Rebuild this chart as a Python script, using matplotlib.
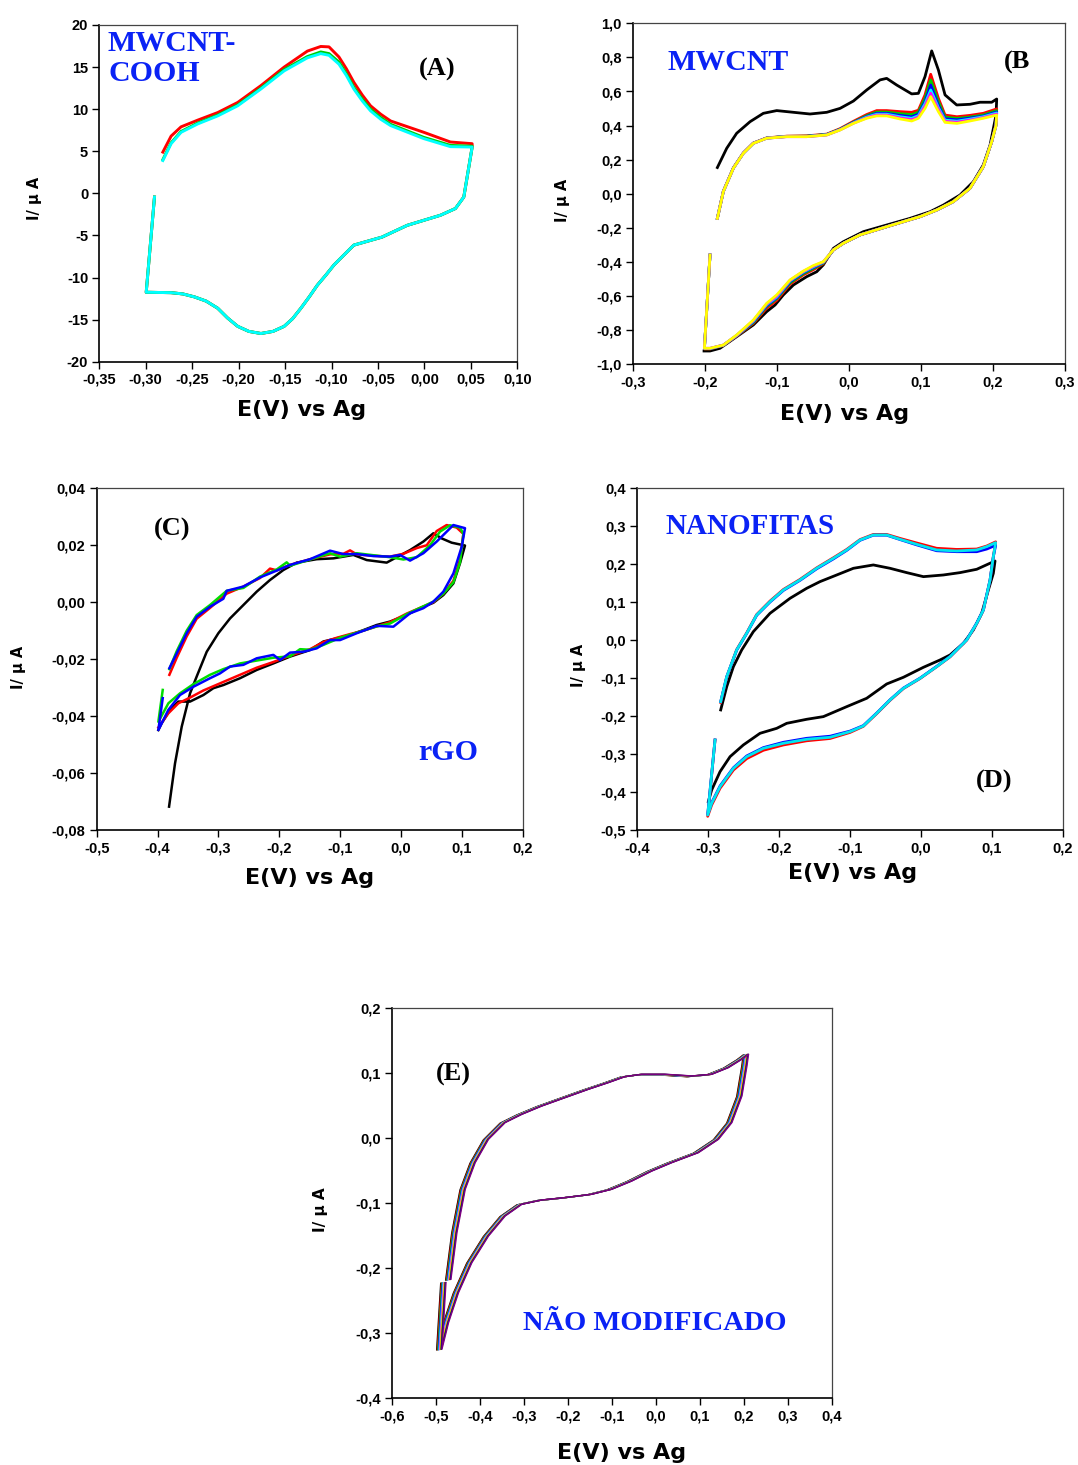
import matplotlib
matplotlib.use("Agg")
import matplotlib.pyplot as plt
import matplotlib.transforms as mtransforms
from matplotlib.ticker import FixedLocator, FixedFormatter

# ---------------- Panel A : MWCNT-COOH ----------------
A_E_fwd = [-0.2816, -0.2727, -0.2620, -0.2440, -0.2225, -0.2010, -0.1760, -0.1510, -0.1260,
           -0.1116, -0.1027, -0.0920, -0.0840, -0.0760, -0.0670, -0.0580, -0.0470, -0.0364,
           -0.0006, 0.0280, 0.0514]
A_I_red_fwd = [4.9, 6.8, 7.9, 8.7, 9.6, 10.8, 12.8, 15.0, 16.9, 17.45, 17.4, 16.2, 14.8, 13.2,
               11.7, 10.4, 9.4, 8.6, 7.25, 6.1, 5.9]
A_I_green_fwd = [4.0, 6.0, 7.35, 8.35, 9.3, 10.5, 12.5, 14.7, 16.25, 16.8, 16.6, 15.6, 14.2, 12.6,
                 11.2, 10.0, 9.0, 8.2, 6.65, 5.7, 5.6]
A_I_cyan_fwd = [3.9, 5.9, 7.25, 8.25, 9.2, 10.4, 12.4, 14.55, 16.1, 16.6, 16.4, 15.35, 14.0, 12.4,
                11.0, 9.8, 8.8, 8.05, 6.5, 5.55, 5.5]
A_E_rev = [0.0514, 0.0424, 0.0334, 0.0173, -0.0185, -0.0457, -0.0760, -0.0973, -0.1060, -0.1152,
           -0.1240, -0.1330, -0.1420, -0.1510, -0.1630, -0.1760, -0.1890, -0.2010, -0.2120,
           -0.2225, -0.2350, -0.2476, -0.2600, -0.2727, -0.2995, -0.2906]
A_I_rev = [5.5, -0.44, -1.8, -2.6, -3.8, -5.2, -6.15, -8.5, -9.7, -10.9, -12.3, -13.65, -14.9,
           -15.8, -16.4, -16.65, -16.4, -15.8, -14.8, -13.65, -12.8, -12.3, -11.95, -11.8,
           -11.75, -0.44]
A_colors = ["red", "#00cc00", "cyan"]

# ---------------- Panel B : MWCNT ----------------
B_E_black_fwd = [-0.1825, -0.1695, -0.1557, -0.1371, -0.1187, -0.1001, -0.0770, -0.0539, -0.0307,
                 -0.0122, 0.0063, 0.0248, 0.0433, 0.0525, 0.0664, 0.0872, 0.0965, 0.1057, 0.1150,
                 0.1243, 0.1335, 0.1497, 0.1682, 0.1821, 0.1983, 0.2052]
B_I_black_fwd = [0.154, 0.267, 0.355, 0.423, 0.472, 0.488, 0.478, 0.468, 0.478, 0.501, 0.544,
                 0.609, 0.668, 0.677, 0.638, 0.586, 0.589, 0.687, 0.838, 0.726, 0.580, 0.521,
                 0.525, 0.537, 0.537, 0.556]
B_E_black_rev = [0.2052, 0.2043, 0.1960, 0.1866, 0.1728, 0.1543, 0.1312, 0.1127, 0.0849, 0.0525,
                 0.0202, -0.0076, -0.0215, -0.0354, -0.0446, -0.0585, -0.0770, -0.0909, -0.1024,
                 -0.1140, -0.1325, -0.1557, -0.1788, -0.1927, -0.2010]
B_I_black_rev = [0.556, 0.462, 0.286, 0.169, 0.071, -0.007, -0.066, -0.105, -0.144, -0.183,
                 -0.222, -0.281, -0.320, -0.417, -0.457, -0.486, -0.535, -0.593, -0.652, -0.691,
                 -0.769, -0.838, -0.906, -0.922, -0.922]

B_E_fwd = [-0.1825, -0.1742, -0.1603, -0.1464, -0.1325, -0.1140, -0.0863, -0.0585, -0.0307,
           -0.0122, 0.0063, 0.0248, 0.0387, 0.0525, 0.0710, 0.0872, 0.0965, 0.1057, 0.1136,
           0.1243, 0.1335, 0.1500, 0.1680, 0.1866, 0.2052]
B_I_fwd = {
    "red":     [-0.144, 0.015, 0.152, 0.240, 0.298, 0.328, 0.338, 0.340, 0.350, 0.382, 0.425, 0.465,
                0.488, 0.488, 0.482, 0.478, 0.490, 0.580, 0.701, 0.560, 0.462, 0.452, 0.460, 0.472, 0.498],
    "#00cc00": [-0.144, 0.014, 0.151, 0.239, 0.297, 0.327, 0.337, 0.338, 0.348, 0.379, 0.420, 0.458,
                0.479, 0.479, 0.470, 0.465, 0.478, 0.560, 0.668, 0.540, 0.450, 0.442, 0.450, 0.462, 0.488],
    "blue":    [-0.144, 0.014, 0.151, 0.239, 0.297, 0.327, 0.336, 0.337, 0.347, 0.377, 0.418, 0.453,
                0.472, 0.472, 0.460, 0.452, 0.467, 0.540, 0.638, 0.520, 0.440, 0.434, 0.444, 0.456, 0.480],
    "cyan":    [-0.144, 0.013, 0.150, 0.238, 0.296, 0.326, 0.336, 0.336, 0.346, 0.376, 0.416, 0.450,
                0.467, 0.467, 0.452, 0.443, 0.458, 0.528, 0.609, 0.505, 0.432, 0.426, 0.438, 0.452, 0.474],
    "magenta": [-0.144, 0.013, 0.150, 0.238, 0.296, 0.326, 0.335, 0.335, 0.345, 0.375, 0.414, 0.446,
                0.462, 0.462, 0.445, 0.435, 0.450, 0.515, 0.590, 0.495, 0.425, 0.420, 0.432, 0.447, 0.468],
    "yellow":  [-0.144, 0.013, 0.150, 0.238, 0.296, 0.326, 0.335, 0.335, 0.345, 0.374, 0.413, 0.443,
                0.457, 0.457, 0.439, 0.427, 0.443, 0.501, 0.570, 0.482, 0.419, 0.413, 0.427, 0.443, 0.462],
}
B_E_rev = [0.2052, 0.2043, 0.1983, 0.1866, 0.1680, 0.1450, 0.1220, 0.0988, 0.0525, 0.0155, -0.0076,
           -0.0215, -0.0354, -0.0493, -0.0631, -0.0816, -0.1001, -0.1140, -0.1325, -0.1557, -0.1742,
           -0.1927, -0.2005, -0.1927]
B_I_rev = {
    "red":     [0.498, 0.410, 0.306, 0.159, 0.032, -0.046, -0.095, -0.134, -0.193, -0.241, -0.290, -0.329,
                -0.410, -0.445, -0.475, -0.530, -0.625, -0.670, -0.760, -0.835, -0.890, -0.910, -0.910, -0.359],
    "#00cc00": [0.488, 0.405, 0.306, 0.159, 0.032, -0.046, -0.095, -0.134, -0.193, -0.241, -0.290, -0.329,
                -0.406, -0.438, -0.468, -0.522, -0.615, -0.660, -0.755, -0.833, -0.889, -0.909, -0.909, -0.359],
    "blue":    [0.480, 0.403, 0.306, 0.159, 0.032, -0.046, -0.095, -0.134, -0.193, -0.241, -0.290, -0.329,
                -0.403, -0.432, -0.462, -0.515, -0.610, -0.655, -0.750, -0.832, -0.888, -0.908, -0.908, -0.359],
    "cyan":    [0.474, 0.402, 0.306, 0.159, 0.032, -0.046, -0.095, -0.134, -0.193, -0.241, -0.290, -0.329,
                -0.401, -0.428, -0.458, -0.510, -0.605, -0.650, -0.746, -0.831, -0.888, -0.907, -0.907, -0.359],
    "magenta": [0.468, 0.401, 0.306, 0.159, 0.032, -0.046, -0.095, -0.134, -0.193, -0.241, -0.290, -0.329,
                -0.399, -0.425, -0.455, -0.507, -0.600, -0.646, -0.743, -0.830, -0.887, -0.906, -0.906, -0.359],
    "yellow":  [0.462, 0.400, 0.306, 0.159, 0.032, -0.046, -0.095, -0.134, -0.193, -0.241, -0.290, -0.329,
                -0.398, -0.421, -0.453, -0.505, -0.593, -0.642, -0.740, -0.828, -0.887, -0.906, -0.906, -0.359],
}

# ---------------- Panel C : rGO ----------------
C_E_black = [-0.3811, -0.3713, -0.3603, -0.3466, -0.3357, -0.3192, -0.3001, -0.2809, -0.2590, -0.2371,
             -0.2152, -0.1933, -0.1714, -0.1385, -0.1111, -0.0782, -0.0563, -0.0235, -0.0070, 0.0149,
             0.0368, 0.0532, 0.0669, 0.0833, 0.1052, 0.0970, 0.0861, 0.0696, 0.0532, 0.0313, 0.0094,
             -0.0180, -0.0399, -0.0618, -0.0837, -0.1056, -0.1275, -0.1494, -0.1823, -0.2097, -0.2371,
             -0.2645, -0.2919, -0.3083, -0.3247, -0.3466, -0.3658, -0.3795, -0.3932, -0.3987]
C_I_black = [-0.0718, -0.0566, -0.0437, -0.0320, -0.0261, -0.0174, -0.0109, -0.0057, -0.0010, 0.0037,
             0.0078, 0.0113, 0.0139, 0.0151, 0.0154, 0.0166, 0.0148, 0.0139, 0.0158, 0.0183, 0.0213,
             0.0242, 0.0224, 0.0209, 0.0199, 0.0137, 0.0066, 0.0025, -0.0002, -0.0021, -0.0045, -0.0068,
             -0.0080, -0.0098, -0.0115, -0.0127, -0.0138, -0.0168, -0.0191, -0.0215, -0.0238, -0.0267,
             -0.0291, -0.0302, -0.0326, -0.0349, -0.0349, -0.0378, -0.0425, -0.0449]
C_E_red = [-0.3806, -0.3685, -0.3521, -0.3357, -0.3138, -0.2864, -0.2590, -0.2316, -0.2152, -0.2042,
           -0.1823, -0.1494, -0.1166, -0.0947, -0.0837, -0.0728, -0.0454, -0.0180, 0.0040, 0.0259,
           0.0423, 0.0587, 0.0751, 0.0915, 0.1025, 0.0970, 0.0861, 0.0696, 0.0532, 0.0313, 0.0094,
           -0.0180, -0.0399, -0.0618, -0.0837, -0.1056, -0.1275, -0.1494, -0.1823, -0.2097, -0.2371,
           -0.2645, -0.2919, -0.3247, -0.3466, -0.3658, -0.3822, -0.3987]
C_I_red = [-0.0255, -0.0195, -0.0120, -0.0058, -0.0020, 0.0030, 0.0055, 0.0085, 0.0118, 0.0112,
           0.0131, 0.0151, 0.0168, 0.0170, 0.0182, 0.0168, 0.0163, 0.0160, 0.0170, 0.0190, 0.0200,
           0.0250, 0.0271, 0.0262, 0.0240, 0.0150, 0.0075, 0.0030, 0.0000, -0.0020, -0.0040, -0.0070,
           -0.0085, -0.0100, -0.0112, -0.0125, -0.0140, -0.0165, -0.0188, -0.0210, -0.0230, -0.0255,
           -0.0280, -0.0310, -0.0335, -0.0355, -0.0390, -0.0440]
C_E_green = [-0.3806, -0.3685, -0.3521, -0.3357, -0.3138, -0.2864, -0.2590, -0.2316, -0.2042, -0.1878,
             -0.1823, -0.1494, -0.1166, -0.1001, -0.0728, -0.0454, -0.0180, 0.0040, 0.0259, 0.0478,
             0.0642, 0.0806, 0.0970, 0.1025, 0.0970, 0.0861, 0.0696, 0.0532, 0.0313, 0.0094, -0.0180,
             -0.0399, -0.0728, -0.1001, -0.1275, -0.1494, -0.1659, -0.1823, -0.2097, -0.2371, -0.2645,
             -0.2919, -0.3138, -0.3412, -0.3631, -0.3822, -0.3987, -0.3915]
C_I_green = [-0.0235, -0.0172, -0.0100, -0.0045, -0.0010, 0.0040, 0.0050, 0.0090, 0.0115, 0.0140,
             0.0128, 0.0150, 0.0172, 0.0160, 0.0172, 0.0165, 0.0158, 0.0150, 0.0158, 0.0200, 0.0248,
             0.0270, 0.0262, 0.0240, 0.0140, 0.0070, 0.0030, 0.0002, -0.0020, -0.0042, -0.0075,
             -0.0085, -0.0107, -0.0125, -0.0150, -0.0167, -0.0165, -0.0190, -0.0195, -0.0205, -0.0215,
             -0.0235, -0.0255, -0.0288, -0.0320, -0.0355, -0.0420, -0.0308]
C_E_blue = [-0.3806, -0.3685, -0.3521, -0.3357, -0.3138, -0.2919, -0.2864, -0.2590, -0.2316, -0.2042,
            -0.1823, -0.1494, -0.1166, -0.0947, -0.0728, -0.0454, -0.0180, -0.0016, 0.0149, 0.0368,
            0.0587, 0.0861, 0.1052, 0.0998, 0.0861, 0.0696, 0.0532, 0.0368, 0.0149, -0.0125, -0.0399,
            -0.0728, -0.1001, -0.1166, -0.1385, -0.1604, -0.1823, -0.1987, -0.2097, -0.2371, -0.2590,
            -0.2809, -0.2974, -0.3138, -0.3412, -0.3631, -0.3822, -0.3987, -0.3915]
C_I_blue = [-0.0232, -0.0180, -0.0109, -0.0051, -0.0016, 0.0012, 0.0040, 0.0055, 0.0087, 0.0111,
            0.0131, 0.0151, 0.0181, 0.0169, 0.0169, 0.0162, 0.0160, 0.0166, 0.0146, 0.0172, 0.0213,
            0.0271, 0.0260, 0.0195, 0.0101, 0.0037, 0.0002, -0.0021, -0.0039, -0.0086, -0.0083,
            -0.0109, -0.0133, -0.0133, -0.0162, -0.0174, -0.0177, -0.0203, -0.0185, -0.0197, -0.0220,
            -0.0226, -0.0250, -0.0267, -0.0297, -0.0326, -0.0378, -0.0449, -0.0337]

# ---------------- Panel D : NANOFITAS ----------------
D_E_black = [-0.2817, -0.2732, -0.2638, -0.2521, -0.2357, -0.2122, -0.1840, -0.1606, -0.1418, -0.1183,
             -0.0948, -0.0667, -0.0432, -0.0197, 0.0038, 0.0319, 0.0554, 0.0789, 0.1047, 0.1023, 0.0953,
             0.0859, 0.0742, 0.0601, 0.0413, 0.0272, 0.0038, -0.0244, -0.0479, -0.0761, -0.1042, -0.1371,
             -0.1606, -0.1887, -0.2028, -0.2263, -0.2498, -0.2685, -0.2826, -0.2944, -0.2991]
D_I_black = [-0.1838, -0.1224, -0.0697, -0.0258, 0.0225, 0.0708, 0.1103, 0.1366, 0.1542, 0.1717,
             0.1893, 0.1981, 0.1893, 0.1779, 0.1673, 0.1717, 0.1779, 0.1867, 0.2086, 0.1761, 0.1322,
             0.0708, 0.0269, -0.0083, -0.0390, -0.0522, -0.0715, -0.0978, -0.1154, -0.1531, -0.1751,
             -0.2014, -0.2084, -0.2190, -0.2322, -0.2453, -0.2760, -0.3068, -0.3463, -0.3946, -0.4253]
D_E_col = [-0.2817, -0.2732, -0.2592, -0.2451, -0.2310, -0.2122, -0.1934, -0.1700, -0.1465, -0.1230,
           -0.1042, -0.0854, -0.0667, -0.0479, -0.0291, -0.0056, 0.0225, 0.0507, 0.0789, 0.0930, 0.1056,
           0.1023, 0.0977, 0.0883, 0.0789, 0.0648, 0.0413, 0.0225, -0.0009, -0.0244, -0.0432, -0.0620,
           -0.0808, -0.0995, -0.1277, -0.1606, -0.1934, -0.2216, -0.2451, -0.2638, -0.2826, -0.2944,
           -0.3000, -0.2897]
D_I_red = [-0.1640, -0.0975, -0.0250, 0.0190, 0.0675, 0.1030, 0.1335, 0.1600, 0.1905, 0.2170, 0.2390,
           0.2650, 0.2785, 0.2785, 0.2680, 0.2560, 0.2420, 0.2390, 0.2400, 0.2480, 0.2590, 0.2200,
           0.1580, 0.0790, 0.0440, 0.0000, -0.0440, -0.0700, -0.1010, -0.1275, -0.1585, -0.1935,
           -0.2270, -0.2430, -0.2590, -0.2650, -0.2760, -0.2900, -0.3120, -0.3420, -0.3900, -0.4340,
           -0.4640, -0.2629]
D_I_blue = [-0.1619, -0.0961, -0.0265, 0.0175, 0.0655, 0.1005, 0.1310, 0.1575, 0.1880, 0.2140, 0.2365,
            0.2630, 0.2765, 0.2765, 0.2650, 0.2510, 0.2355, 0.2330, 0.2330, 0.2400, 0.2500, 0.2200,
            0.1590, 0.0800, 0.0450, 0.0010, -0.0430, -0.0690, -0.1000, -0.1262, -0.1570, -0.1920,
            -0.2250, -0.2395, -0.2530, -0.2585, -0.2690, -0.2830, -0.3050, -0.3360, -0.3840, -0.4280,
            -0.4590, -0.2629]
D_I_cyan = [-0.1619, -0.0961, -0.0258, 0.0181, 0.0664, 0.1015, 0.1322, 0.1586, 0.1893, 0.2156, 0.2376,
            0.2639, 0.2771, 0.2771, 0.2657, 0.2525, 0.2376, 0.2349, 0.2376, 0.2464, 0.2569, 0.2200,
            0.1586, 0.0795, 0.0444, 0.0005, -0.0434, -0.0697, -0.1004, -0.1268, -0.1575, -0.1926,
            -0.2260, -0.2409, -0.2558, -0.2611, -0.2716, -0.2848, -0.3068, -0.3375, -0.3858, -0.4297,
            -0.4604, -0.2629]

# ---------------- Panel E : NÃO MODIFICADO ----------------
E_E = [-0.4785, -0.4648, -0.4459, -0.4232, -0.3929, -0.3549, -0.3169, -0.2714, -0.2183, -0.1653,
       -0.1198, -0.0818, -0.0438, 0.0093, 0.0700, 0.1155, 0.1533, 0.1838, 0.1988,
       0.1952, 0.1838, 0.1610, 0.1305, 0.0850, 0.0245, -0.0210, -0.0666, -0.1121, -0.1576, -0.2183,
       -0.2714, -0.3169, -0.3549, -0.3929, -0.4307, -0.4612, -0.4839, -0.4990, -0.4898]
E_I = [-0.2180, -0.1460, -0.0795, -0.0385, -0.0026, 0.0231, 0.0358, 0.0486, 0.0615, 0.0743,
       0.0846, 0.0938, 0.0974, 0.0974, 0.0948, 0.0974, 0.1077, 0.1205, 0.1282,
       0.1102, 0.0640, 0.0231, -0.0026, -0.0231, -0.0385, -0.0514, -0.0668, -0.0795, -0.0872, -0.0923,
       -0.0960, -0.1026, -0.1206, -0.1514, -0.1923, -0.2385, -0.2846, -0.3257, -0.2231]
E_colors = ["black", "red", "#00c000", "blue", "cyan", "magenta", "yellow", "#808000", "#000080", "#800080"]

# ---------------- Tick labels ----------------
A_xticks = [-0.35, -0.30, -0.25, -0.20, -0.15, -0.10, -0.05, 0.00, 0.05, 0.10]
A_xlabels = ["-0,35", "-0,30", "-0,25", "-0,20", "-0,15", "-0,10", "-0,05", "0,00", "0,05", "0,10"]
A_yticks = [-20, -15, -10, -5, 0, 5, 10, 15, 20]
A_ylabels = ["-20", "-15", "-10", "-5", "0", "5", "10", "15", "20"]
B_xticks = [-0.3, -0.2, -0.1, 0.0, 0.1, 0.2, 0.3]
B_xlabels = ["-0,3", "-0,2", "-0,1", "0,0", "0,1", "0,2", "0,3"]
B_yticks = [-1.0, -0.8, -0.6, -0.4, -0.2, 0.0, 0.2, 0.4, 0.6, 0.8, 1.0]
B_ylabels = ["-1,0", "-0,8", "-0,6", "-0,4", "-0,2", "0,0", "0,2", "0,4", "0,6", "0,8", "1,0"]
C_xticks = [-0.5, -0.4, -0.3, -0.2, -0.1, 0.0, 0.1, 0.2]
C_xlabels = ["-0,5", "-0,4", "-0,3", "-0,2", "-0,1", "0,0", "0,1", "0,2"]
C_yticks = [-0.08, -0.06, -0.04, -0.02, 0.00, 0.02, 0.04]
C_ylabels = ["-0,08", "-0,06", "-0,04", "-0,02", "0,00", "0,02", "0,04"]
D_xticks = [-0.4, -0.3, -0.2, -0.1, 0.0, 0.1, 0.2]
D_xlabels = ["-0,4", "-0,3", "-0,2", "-0,1", "0,0", "0,1", "0,2"]
D_yticks = [-0.5, -0.4, -0.3, -0.2, -0.1, 0.0, 0.1, 0.2, 0.3, 0.4]
D_ylabels = ["-0,5", "-0,4", "-0,3", "-0,2", "-0,1", "0,0", "0,1", "0,2", "0,3", "0,4"]
E_xticks = [-0.6, -0.5, -0.4, -0.3, -0.2, -0.1, 0.0, 0.1, 0.2, 0.3, 0.4]
E_xlabels = ["-0,6", "-0,5", "-0,4", "-0,3", "-0,2", "-0,1", "0,0", "0,1", "0,2", "0,3", "0,4"]
E_yticks = [-0.4, -0.3, -0.2, -0.1, 0.0, 0.1, 0.2]
E_ylabels = ["-0,4", "-0,3", "-0,2", "-0,1", "0,0", "0,1", "0,2"]

XLABEL = "E(V) vs Ag"
YLABEL = "I/ \u03bc A"

# ---------------- Figure ----------------
W, H = 1078, 1465
fig = plt.figure(figsize=(W / 100, H / 100), dpi=100)
fig.patch.set_facecolor("white")

BLUE = "#0a22f5"
SERIF = "Liberation Serif"
SANS = "Liberation Sans"


def make_axes(l, r, t, b):
    return fig.add_axes([l / W, 1 - b / H, (r - l) / W, (b - t) / H])


def style(ax, xlim, ylim, xt, xl, yt, yl):
    ax.set_xlim(*xlim)
    ax.set_ylim(*ylim)
    ax.xaxis.set_major_locator(FixedLocator(xt))
    ax.xaxis.set_major_formatter(FixedFormatter(xl))
    ax.yaxis.set_major_locator(FixedLocator(yt))
    ax.yaxis.set_major_formatter(FixedFormatter(yl))
    ax.tick_params(direction="out", length=5, width=1.0, pad=3, top=False, right=False,
                   labelsize=10.5, colors="black")
    for lab in ax.get_xticklabels() + ax.get_yticklabels():
        lab.set_fontfamily(SANS)
        lab.set_fontweight("bold")
    for s in ["left", "bottom"]:
        ax.spines[s].set_linewidth(1.2)
        ax.spines[s].set_color("black")
    for s in ["top", "right"]:
        ax.spines[s].set_linewidth(0.9)
        ax.spines[s].set_color("#444444")


def axis_labels(xc, yc, ylx, yly, ysize=10.5):
    fig.text(xc / W, 1 - yc / H, XLABEL, ha="center", va="center", fontsize=16,
             fontweight="bold", family="DejaVu Sans")
    fig.text(ylx / W, 1 - yly / H, YLABEL, ha="center", va="center", rotation=90,
             fontsize=ysize, fontweight="bold", family="DejaVu Sans")


# ---- A ----
axA = make_axes(99.3, 517.3, 25, 361.7)
style(axA, (-0.35, 0.10), (-20, 20), A_xticks, A_xlabels, A_yticks, A_ylabels)
for col, I_f in zip(A_colors, [A_I_red_fwd, A_I_green_fwd, A_I_cyan_fwd]):
    axA.plot(A_E_fwd + A_E_rev, I_f + A_I_rev, color=col, lw=2.1, solid_joinstyle="round")
fig.text(108 / W, 1 - 30 / H, "MWCNT-\nCOOH", ha="left", va="top", fontsize=21.5,
         fontweight="bold", family=SERIF, color=BLUE, linespacing=1.12)
fig.text(437 / W, 1 - 69 / H, "(A)", ha="center", va="center", fontsize=19,
         fontweight="bold", family=SERIF, color="black")
axis_labels(302, 410, 35, 198)

# ---- B ----
axB = make_axes(632.7, 1065, 23.3, 364.3)
style(axB, (-0.3, 0.3), (-1.0, 1.0), B_xticks, B_xlabels, B_yticks, B_ylabels)
axB.plot(B_E_black_fwd + B_E_black_rev, B_I_black_fwd + B_I_black_rev, color="black", lw=2.0)
for col in ["red", "#00cc00", "blue", "cyan", "magenta", "yellow"]:
    axB.plot(B_E_fwd + B_E_rev, B_I_fwd[col] + B_I_rev[col], color=col, lw=2.0)
fig.text(667 / W, 1 - 62 / H, "MWCNT", ha="left", va="center", fontsize=21.5,
         fontweight="bold", family=SERIF, color=BLUE)
fig.text(1004 / W, 1 - 62 / H, "(B", ha="left", va="center", fontsize=19,
         fontweight="bold", family=SERIF, color="black")
axis_labels(845, 414, 562, 200)

# ---- C ----
axC = make_axes(96.7, 522.7, 488.3, 830)
style(axC, (-0.5, 0.2), (-0.08, 0.04), C_xticks, C_xlabels, C_yticks, C_ylabels)
axC.plot(C_E_black, C_I_black, color="black", lw=1.8)
axC.plot(C_E_red, C_I_red, color="red", lw=1.8)
axC.plot(C_E_green, C_I_green, color="#00dd00", lw=1.8)
axC.plot(C_E_blue, C_I_blue, color="blue", lw=1.8)
fig.text(172 / W, 1 - 529 / H, "(C)", ha="center", va="center", fontsize=19,
         fontweight="bold", family=SERIF, color="black")
fig.text(448 / W, 1 - 752 / H, "rGO", ha="center", va="center", fontsize=21.5,
         fontweight="bold", family=SERIF, color=BLUE)
axis_labels(310, 878, 18, 667)

# ---- D ----
axD = make_axes(636.7, 1062.7, 488.3, 830)
style(axD, (-0.4, 0.2), (-0.5, 0.4), D_xticks, D_xlabels, D_yticks, D_ylabels)
axD.plot(D_E_black, D_I_black, color="black", lw=2.0)
axD.plot(D_E_col, D_I_red, color="red", lw=2.0)
axD.plot(D_E_col, D_I_blue, color="blue", lw=2.0)
axD.plot(D_E_col, D_I_cyan, color="#00e5ee", lw=2.0)
fig.text(665 / W, 1 - 527 / H, "NANOFITAS", ha="left", va="center", fontsize=21,
         fontweight="bold", family=SERIF, color=BLUE)
fig.text(994 / W, 1 - 781 / H, "(D)", ha="center", va="center", fontsize=19,
         fontweight="bold", family=SERIF, color="black")
axis_labels(853, 873, 578, 665)

# ---- E ----
axE = make_axes(392.3, 831.7, 1008.3, 1398.3)
style(axE, (-0.6, 0.4), (-0.4, 0.2), E_xticks, E_xlabels, E_yticks, E_ylabels)
for i, col in enumerate(E_colors):
    tr = mtransforms.offset_copy(axE.transData, fig=fig, x=0.42 * i, y=0.06 * i, units="points")
    axE.plot(E_E, E_I, color=col, lw=1.0, transform=tr, solid_joinstyle="round")
fig.text(453 / W, 1 - 1074 / H, "(E)", ha="center", va="center", fontsize=19,
         fontweight="bold", family=SERIF, color="black")
fig.text(523 / W, 1 - 1324 / H, "N\u00c3O MODIFICADO", ha="left", va="center", fontsize=20.5,
         fontweight="bold", family=SERIF, color=BLUE)
axis_labels(622, 1453, 321, 1210, ysize=11)

fig.savefig("out.png", dpi=100, facecolor="white")
